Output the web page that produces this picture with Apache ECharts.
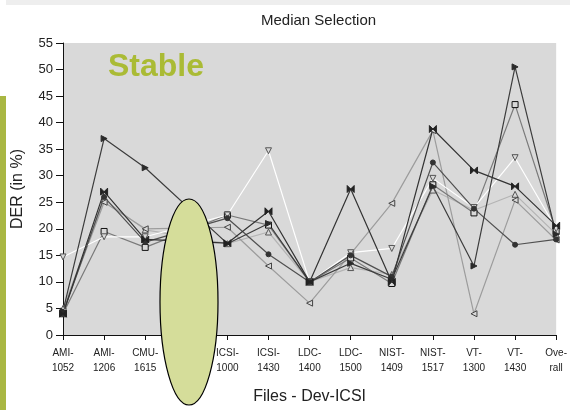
<!DOCTYPE html>
<html><head><meta charset="utf-8">
<script src="https://cdn.jsdelivr.net/npm/echarts@6/dist/echarts.min.js"></script>
<style>html,body{margin:0;padding:0;background:#fff}#c{width:570px;height:410px}</style>
</head><body><div id="c"></div>
<script>
// Category tick labels (4th file is hidden under the oval in the reference)
const categories = ['AMI-1052','AMI-1206','CMU-1615','','ICSI-1000','ICSI-1430','LDC-1400','LDC-1500','NIST-1409','NIST-1517','VT-1300','VT-1430','Ove-rall'];
const yTicks = [0,5,10,15,20,25,30,35,40,45,50,55];

// Series values (DER in %), null = hidden under oval
const triRight = [4.5, 37, 31.5, null, 17.2, 21, 10, 13.5, 10.5, 28, 13, 50.5, 19];
const bowtie   = [4, 27, 18, null, 17.3, 23.3, 10, 27.5, 10, 38.8, 31, 28, 20.6];
const circle   = [4, 26, 17.5, null, 22, 15.2, 10, 15, 11, 32.5, 23.8, 17, 18];
const square   = [4, 19.5, 16.5, null, 22.6, 20.7, 10, 14.5, 9.7, 28.3, 23, 43.4, 19.5];
const triDown  = [14.7, 18.5, 18.5, null, 22.6, 34.7, 10, 15.5, 16.3, 29.5, 24, 33.4, 20];
const triLeft  = [4.5, 25, 20, null, 20.3, 13, 6, 15.3, 24.8, 38.5, 4, 25.4, 17.9];
const triUp    = [5, 25.5, 19.8, null, 17.2, 19.4, 10, 12.7, 11.4, 27.3, 23.5, 26.5, 19];

const BOW = 'path://M0,0L5,5L0,10ZM10,0L5,5L10,10Z';
function mk(name, data, lineColor, symbol, rot, fill, border, size) {
  return {
    name, type: 'line', data, connectNulls: true, symbol, symbolRotate: rot, symbolSize: size || 6,
    showAllSymbol: true,
    lineStyle: { color: lineColor, width: 1.2 },
    itemStyle: { color: fill, borderColor: border, borderWidth: 1 },
    emphasis: { disabled: true }, animation: false
  };
}

const chart = echarts.init(document.getElementById('c'));
chart.setOption({
  animation: false,
  backgroundColor: '#fff',
  title: { text: 'Median Selection', left: 256, top: 8, textStyle: { fontFamily: 'Liberation Sans', fontSize: 15, fontWeight: 'normal', color: '#222' } },
  grid: { left: 63, right: 10, top: 43, bottom: 72, show: true, backgroundColor: '#d9d9d9', borderWidth: 0 },
  xAxis: {
    type: 'category', data: categories, boundaryGap: false,
    name: 'Files - Dev-ICSI', nameLocation: 'middle', nameGap: 54,
    nameTextStyle: { fontFamily: 'Liberation Sans', fontSize: 16, color: '#222' },
    axisLine: { lineStyle: { color: '#111', width: 1 } },
    axisTick: { show: true, length: 5, lineStyle: { color: '#111' }, alignWithLabel: true },
    axisLabel: { interval: 0, margin: 11, fontFamily: 'Liberation Sans', fontSize: 10, lineHeight: 15, color: '#222',
      formatter: v => v ? v.replace('-', '-\n') : '' },
    splitLine: { show: false }
  },
  yAxis: {
    type: 'value', min: yTicks[0], max: yTicks[yTicks.length - 1], interval: 5,
    name: 'DER (in %)', nameLocation: 'middle', nameGap: 37,
    nameTextStyle: { fontFamily: 'Liberation Sans', fontSize: 16, color: '#222' },
    axisLine: { show: true, lineStyle: { color: '#111', width: 1 } },
    axisTick: { show: true, length: 7, lineStyle: { color: '#111' } },
    axisLabel: { margin: 10, fontFamily: 'Liberation Sans', fontSize: 13, color: '#222' },
    splitLine: { show: false }
  },
  series: [
    mk('triUp', triUp, '#b4b4b4', 'triangle', 0, '#d9d9d9', '#555'),
    mk('triLeft', triLeft, '#9c9c9c', 'triangle', 90, '#d9d9d9', '#444'),
    mk('square', square, '#7a7a7a', 'rect', 0, '#d9d9d9', '#111', 6),
    mk('triDown', triDown, '#ffffff', 'triangle', 180, '#d9d9d9', '#555'),
    mk('circle', circle, '#505050', 'circle', 0, '#333', '#333', 5),
    mk('triRight', triRight, '#3c3c3c', 'triangle', -90, '#2a2a2a', '#2a2a2a'),
    mk('bowtie', bowtie, '#333333', BOW, 0, '#222', '#222', 7)
  ],
  graphic: [
    { type: 'rect', left: 0, top: 96, shape: { width: 6, height: 314 }, style: { fill: '#a9b743' }, z: 10 },
    { type: 'rect', left: 6, top: 0, shape: { width: 564, height: 5 }, style: { fill: '#eeeeee' }, z: 10 },
    { type: 'text', left: 108, top: 51, style: { text: 'Stable', fill: '#aabb35', font: 'bold 32px "Liberation Sans"' }, z: 20 },
    { type: 'ellipse', shape: { cx: 189, cy: 302, rx: 29, ry: 103 }, style: { fill: '#d5dd9a', stroke: '#000', lineWidth: 1.2 }, z: 30 }
  ]
});
</script></body></html>
